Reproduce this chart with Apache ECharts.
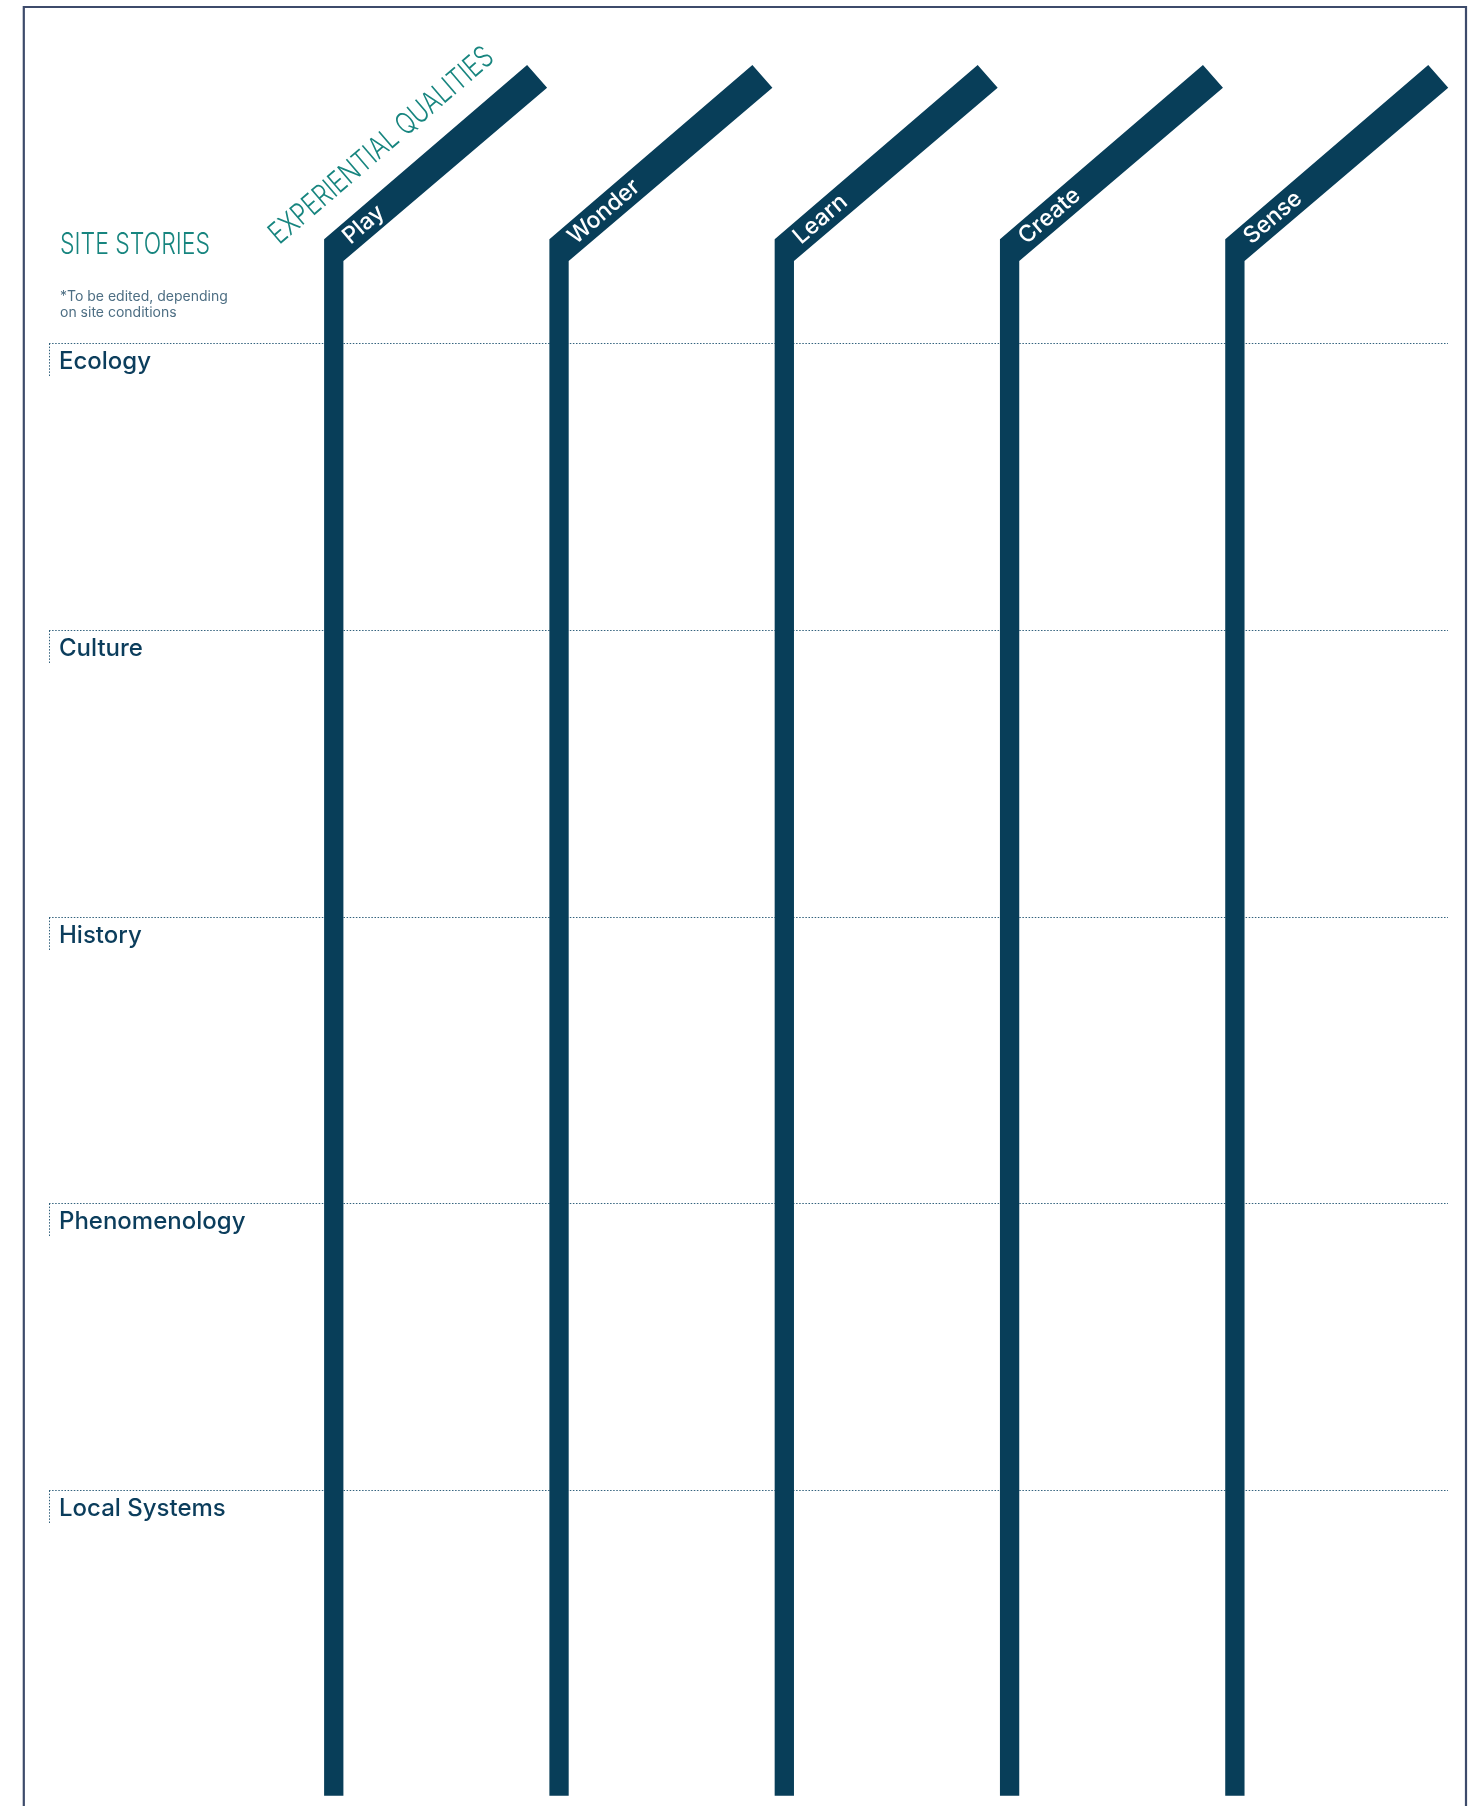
<!DOCTYPE html>
<html>
<head>
<meta charset="utf-8">
<title>Site Stories / Experiential Qualities</title>
<script src="https://cdn.jsdelivr.net/npm/echarts@6/dist/echarts.min.js"></script>
<style>
  html, body { margin: 0; padding: 0; background: #ffffff; }
  #main { width: 1480px; height: 1806px; }
</style>
</head>
<body>
<div id="main"></div>
<script>
// columns (straws) and rows (dotted bands)
const qualities = ["Play", "Wonder", "Learn", "Create", "Sense"];
const siteStories = ["Ecology", "Culture", "History", "Phenomenology", "Local Systems"];
const storiesTitle = "SITE STORIES";
const storiesNote = ["*To be edited, depending", "on site conditions"];
const qualitiesTitle = "EXPERIENTIAL QUALITIES";

const NAVY = "#083e59";
const TEAL = "#17857f";
const NOTE = "#4d6e83";
const FRAME = "#3d4b6b";
const ANGLE = 40.6 * Math.PI / 180;
const SANS = "Inter, 'Noto Sans', sans-serif";
const TITLE_FONT = "300 30px " + SANS;

// the titles use a narrow face; squeeze a light sans to the same width
function squeeze(text, font, width) {
  const ctx = document.createElement("canvas").getContext("2d");
  ctx.font = font;
  return width / ctx.measureText(text).width;
}

const chartDom = document.getElementById("main");
const myChart = echarts.init(chartDom, null, { renderer: "canvas" });

// straw: vertical stem + slanted top, label along the slant
function renderStraw(params, api) {
  const i = api.value(0);
  const base = api.coord([i, 0]);
  const foot = api.coord([i, siteStories.length]);
  const cx = base[0];
  const top = base[1];
  const hw = 9.65;
  const bottom = foot[1] + 19;
  const points = [
    [cx - hw, bottom],
    [cx - hw, top - 103.7],
    [cx - hw + 203, top - 278],
    [cx - hw + 223, top - 255.3],
    [cx + hw, top - 82],
    [cx + hw, bottom]
  ];
  const lx = cx + 16 * Math.cos(ANGLE);
  const ly = top - 92.85 - 16 * Math.sin(ANGLE);
  return {
    type: "group",
    children: [
      { type: "polygon", shape: { points: points }, style: { fill: NAVY } },
      {
        type: "text",
        x: lx,
        y: ly,
        rotation: ANGLE,
        style: {
          text: qualities[params.dataIndex],
          fill: "#ffffff",
          font: "500 23px " + SANS,
          align: "left",
          verticalAlign: "middle"
        }
      }
    ]
  };
}

// dotted separator + small tick + row label
function renderRow(params, api) {
  const row = api.value(1);
  const y = Math.round(api.coord([0, row])[1]) + 0.5;
  const x0 = params.coordSys.x;
  const x1 = params.coordSys.x + params.coordSys.width;
  const dotted = { stroke: "#33627d", lineWidth: 1, lineDash: [1.5, 1.6] };
  return {
    type: "group",
    children: [
      { type: "line", shape: { x1: x0, y1: y, x2: x1, y2: y }, style: dotted },
      { type: "line", shape: { x1: x0 + 0.5, y1: y, x2: x0 + 0.5, y2: y + 33 }, style: dotted },
      {
        type: "text",
        x: x0 + 10,
        y: y + 18.5,
        style: {
          text: siteStories[params.dataIndex],
          fill: "#0b3d5c",
          font: "500 24px " + SANS,
          align: "left",
          verticalAlign: "middle"
        }
      }
    ]
  };
}

const option = {
  backgroundColor: "#ffffff",
  animation: false,
  grid: { left: 49, right: 32, top: 343, bottom: 29.25 },
  xAxis: { type: "value", min: -1.264, max: 4.946, show: false },
  yAxis: { type: "value", min: 0, max: siteStories.length, inverse: true, show: false },
  graphic: [
    {
      type: "rect",
      shape: { x: 23.8, y: 7, width: 1442.2, height: 1900 },
      style: { fill: "none", stroke: FRAME, lineWidth: 2.2 }
    },
    {
      type: "text",
      x: 60,
      y: 245,
      scaleX: squeeze(storiesTitle, TITLE_FONT, 150),
      style: { text: storiesTitle, fill: TEAL, font: TITLE_FONT, align: "left", verticalAlign: "middle" }
    },
    {
      type: "text",
      x: 60,
      y: 296.8,
      style: { text: storiesNote[0], fill: NOTE, font: "14px " + SANS, align: "left", verticalAlign: "middle" }
    },
    {
      type: "text",
      x: 60,
      y: 312.5,
      style: { text: storiesNote[1], fill: NOTE, font: "14px " + SANS, align: "left", verticalAlign: "middle" }
    },
    {
      type: "text",
      x: 273.5,
      y: 238.5,
      rotation: ANGLE,
      scaleX: squeeze(qualitiesTitle, TITLE_FONT, 285),
      style: { text: qualitiesTitle, fill: TEAL, font: TITLE_FONT, align: "left", verticalAlign: "middle" }
    }
  ],
  series: [
    {
      type: "custom",
      name: "rows",
      clip: false,
      z: 1,
      renderItem: renderRow,
      data: siteStories.map((s, i) => [0, i])
    },
    {
      type: "custom",
      name: "qualities",
      clip: false,
      z: 2,
      renderItem: renderStraw,
      data: qualities.map((q, i) => [i, 0])
    }
  ]
};

myChart.setOption(option);
</script>
</body>
</html>
